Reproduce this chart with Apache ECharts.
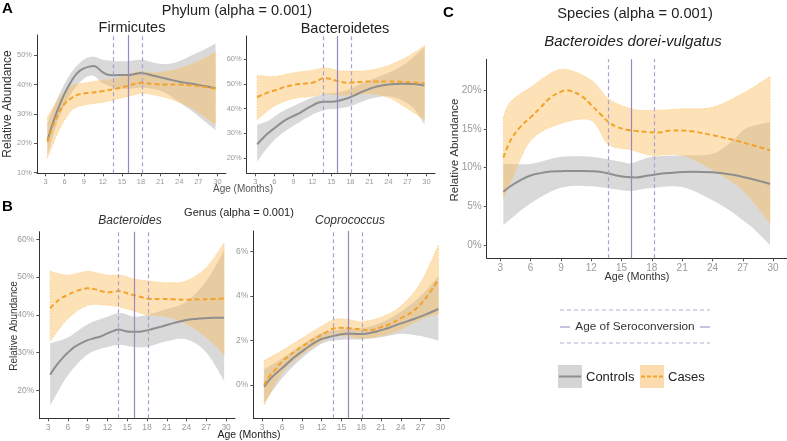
<!DOCTYPE html>
<html><head><meta charset="utf-8">
<script src="https://cdn.jsdelivr.net/npm/echarts@6/dist/echarts.min.js"></script>
<style>html,body{margin:0;padding:0;background:#fff}#c{width:787px;height:441px}</style>
</head><body><div id="c"></div><script>
// ---------- data ----------
const xTicks = [3,6,9,12,15,18,21,24,27,30];
const seroLo = 13.7, seroMid = 16, seroHi = 18.2;

// Firmicutes
const firmTicks = [10,20,30,40,50];
const firmCtrlX = [3.3,4,5,6,7,8,9,10,10.5,11,12,13,14,15,16,17,18,19,20,22,24,26,28,29.7];
const firmCtrlY = [21,26,32,37,41,44,45.5,46.2,46.3,46,44.2,43.3,43.2,43.3,43.3,43.6,44,43.6,43,42,41,40.3,39.5,38.8];
const firmCtrlBX = [3.3,5,7,9,10.5,12,14,16,18,20,22,24,26,28,29.7];
const firmCtrlLo = [16,28,37,42,43,40.5,39,38.5,39,38.5,37,34,31,27.5,24.5];
const firmCtrlHi = [27,36,44,48.5,49.5,48.5,48,48,48.5,47.5,47,48,50,52,54];
const firmCaseX = [3.3,4,5,6,7,8,9,10,12,14,16,18,20,22,24,26,28,29.7];
const firmCaseY = [20.5,25,30,33.5,35.3,36.5,37,37.2,37.8,38.6,39.6,40.6,40.2,40,40,39.7,39.2,38.6];
const firmCaseBX = [3.3,5,7,9,12,14,16,18,20,22,24,26,28,29.7];
const firmCaseLo = [15,24,31,33,34,35,36,37,36.5,35.5,34,32,29,26.5];
const firmCaseHi = [29,35,39.5,40.5,41.5,42,43.5,44.5,44,44.5,45.5,47,49,51];

// Bacteroidetes
const bactTicks = [20,30,40,50,60];
const bactCtrlX = [3.3,4,5,6,7,8,9,10,11,12,13,14,15,16,17,18,19,20,21,22,24,26,28,29.7];
const bactCtrlY = [25.5,27.5,30,32,34,35.7,37,38.2,39.8,41.2,42.5,42.8,42.8,43.1,43.8,44.6,45.8,47,48,48.8,49.8,50.1,50,49.3];
const bactCtrlBX = [3.3,5,7,9,12,14,16,18,20,22,24,26,28,29.7];
const bactCtrlLo = [18.5,24.5,29.5,33,37.5,39.5,40,41,43,44.5,45,43.5,40,33.5];
const bactCtrlHi = [33.5,35,38.5,41,44.5,46,46.5,48,50.5,52.5,54.5,57,61,65];
const bactCaseX = [3.3,4,5,6,7,8,9,10,11,12,13,13.7,14.5,15.5,16.5,17.5,18.5,20,22,24,26,28,29.7];
const bactCaseY = [44.6,45.5,46.5,47.3,48.2,49,49.6,50,50.2,50.5,51.5,52.3,52.2,51.5,50.8,50.5,50.6,50.9,51,51,50.9,50.6,50.2];
const bactCaseBX = [3.3,6,9,12,14,16,18,21,24,27,29.7];
const bactCaseLo = [35.5,41,44,45,46,45.5,45.5,46,44.5,40,35.5];
const bactCaseHi = [53.5,53,54.5,55.5,56.5,55.5,55.2,55.5,57.5,61,65.5];

// Bacteroides (genus)
const bdesTicks = [20,30,40,50,60];
const bdesCtrlX = [3.3,4,5,6,7,8,9,10,11,12,13,13.7,14.5,15.5,16.5,17.5,18.5,20,21,22,24,26,28,29.7];
const bdesCtrlY = [24.1,26,28.2,30,31.5,32.5,33.3,33.8,34.3,35.1,35.8,36.1,35.8,35.5,35.5,35.7,36.1,36.8,37.3,37.8,38.6,39,39.2,39.2];
const bdesCtrlBX = [3.3,6,9,12,14,16,18,21,24,27,29.7];
const bdesCtrlLo = [16,24,29.5,31.5,32,31.5,31.5,33,33.5,30,22.5];
const bdesCtrlHi = [32.5,34,37.5,39.5,40.5,39.5,40,41.5,43.5,49,57];
const bdesCaseX = [3.3,4,5,6,7,8,9,10,11,12,13,13.7,14.5,15.5,16.5,17.5,18.5,20,22,24,26,28,29.7];
const bdesCaseY = [41.7,43,44.4,45.3,46.1,46.7,47,46.8,46.3,45.9,46.1,46.3,46,45.4,45,44.5,44.2,44.2,44.1,44,44.1,44.2,44.3];
const bdesCaseBX = [3.3,6,9,12,14,16,18,21,24,27,29.7];
const bdesCaseLo = [33,39,42.5,42.5,42,41,40,39.5,37.5,34,29.5];
const bdesCaseHi = [51.5,50.5,51.5,50.5,50.5,49.5,49,48.5,49,52.5,59];

// Coprococcus
const coprTicks = [0,2,4,6];
const coprX = [3.3,4,5,6,7,8,9,10,11,12,13,14,15,16,17,18,19,20,21,22,24,26,28,29.7];
const coprCtrlY = [-0.08,0.2,0.5,0.75,1.02,1.28,1.5,1.72,1.92,2.07,2.15,2.22,2.28,2.32,2.3,2.29,2.32,2.38,2.47,2.55,2.77,2.97,3.2,3.42];
const coprCaseY = [0,0.35,0.7,1.05,1.3,1.52,1.72,1.92,2.1,2.25,2.42,2.55,2.57,2.56,2.53,2.5,2.46,2.5,2.6,2.7,3.0,3.35,4.0,4.75];
const coprBX = [3.3,6,9,12,14,16,18,21,24,27,29.7];
const coprCtrlLo = [-0.8,0.3,1.2,1.85,2.0,2.05,2.05,2.15,2.3,2.2,2.0];
const coprCtrlHi = [0.7,1.2,1.8,2.35,2.45,2.55,2.55,2.8,3.3,4.0,4.9];
const coprCaseLo = [-0.9,0.55,1.35,1.95,2.2,2.2,2.1,2.2,2.5,2.95,3.2];
const coprCaseHi = [1.1,1.55,2.1,2.65,2.95,2.95,2.85,3.05,3.55,4.6,6.3];

// Bacteroides dorei-vulgatus (species)
const specTicks = [0,5,10,15,20];
const specCtrlX = [3.3,4,5,6,7,8,9,10,11,12,13,13.7,14.5,15.5,16.5,17.5,18.5,20,21,22,24,26,27,28,29.7];
const specCtrlY = [6.9,7.6,8.4,9.0,9.3,9.5,9.55,9.58,9.58,9.55,9.45,9.25,9.0,8.8,8.75,8.95,9.15,9.35,9.46,9.48,9.4,9.1,8.8,8.5,7.9];
const specCtrlBX = [3.3,6,9,12,15,16,18,21,24,26,27,28,29.7];
const specCtrlLo = [2.6,5.4,7.4,7.6,7.1,7.0,7.4,7.5,5.8,4.2,3.2,2.2,0];
const specCtrlHi = [10.5,10.5,11.4,11.4,10.75,10.6,11.4,11.6,11.8,13.5,14.8,15.4,15.9];
const specCaseX = [3.3,4,5,6,7,8,9,9.5,10,11,12,13,13.7,14.5,15.5,16.5,17.5,18.5,20,21,22,24,26,28,29.7];
const specCaseY = [11.3,13.5,15.3,16.5,17.8,19.1,19.8,20,19.9,19.3,18.1,16.8,15.9,15.3,14.9,14.75,14.6,14.55,14.8,14.8,14.7,14.2,13.6,12.9,12.25];
const specCaseBX = [3.3,4,6,9,12,13.7,16,18,21,24,27,29.7];
const specCaseLo = [6,8,13.5,15.7,16.1,13,12.3,11.6,11.6,9.7,7.1,2.8];
const specCaseHi = [16.5,18.5,20.4,22.7,21.3,18.9,17.6,17.4,17.6,17.8,19.6,21.8];

// ---------- style ----------
const FONT = 'Liberation Sans, Arial, sans-serif';
const CTRL_LINE = '#8e8e8e', CASE_LINE = '#f2a32c';
const CTRL_BAND = 'rgba(150,150,150,0.36)', CASE_BAND = 'rgba(252,186,84,0.42)';
const DASH_V = '#ad9fcc', SOLID_V = '#9a88bd';

const grids = [
  {left:37, top:35, width:189, height:138.3},
  {left:246.7, top:36, width:188.3, height:137.3},
  {left:39.3, top:231.7, width:195.7, height:186.6},
  {left:253.3, top:231, width:196, height:187.3},
  {left:486.7, top:59.3, width:300, height:199}
];
const yRanges = [[9.8,56.9],[13.8,69.4],[12.6,62],[-1.5,6.93],[-1.7,24]];
const yTickSets = [firmTicks,bactTicks,bdesTicks,coprTicks,specTicks];
const labelSizes = [7.5,7.5,8.5,8.5,10];

function spline(pts, n){
  const out=[];
  for(let i=0;i<pts.length-1;i++){
    const p0=pts[Math.max(i-1,0)], p1=pts[i], p2=pts[i+1], p3=pts[Math.min(i+2,pts.length-1)];
    const c1=[p1[0]+(p2[0]-p0[0])/6, p1[1]+(p2[1]-p0[1])/6];
    const c2=[p2[0]-(p3[0]-p1[0])/6, p2[1]-(p3[1]-p1[1])/6];
    for(let k=0;k<n;k++){
      const t=k/n,u=1-t;
      out.push([u*u*u*p1[0]+3*u*u*t*c1[0]+3*u*t*t*c2[0]+t*t*t*p2[0],
                u*u*u*p1[1]+3*u*u*t*c1[1]+3*u*t*t*c2[1]+t*t*t*p2[1]]);
    }
  }
  out.push(pts[pts.length-1]);
  return out;
}
function band(gi, xs, lo, hi, color, edge){
  return {type:'custom', xAxisIndex:gi, yAxisIndex:gi, silent:true, z:1, animation:false,
    data:[[xs[0], lo[0]]],
    renderItem(params, api){
      const up = xs.map((x,i)=>api.coord([x,hi[i]]));
      const dn = xs.map((x,i)=>api.coord([x,lo[i]]));
      const pts = spline(up,8).concat(spline(dn,8).reverse());
      const st = {fill:color};
      if(edge){ st.stroke = edge; st.lineWidth = 1; st.lineDash = [1.5,1.5]; }
      return {type:'polygon', shape:{points:pts}, style:st};
    }};
}
function line(gi, xs, ys, color, dashed, w){
  return {type:'line', xAxisIndex:gi, yAxisIndex:gi, data:xs.map((x,i)=>[x,ys[i]]),
    smooth:0.4, showSymbol:false, symbol:'none', silent:true, animation:false, z:3,
    lineStyle:{color:color, width:w||2, type: dashed ? [5,3] : 'solid'}};
}
function vlines(gi){
  const dash = {type:[4,3], color:DASH_V, width:1.2};
  return {type:'line', xAxisIndex:gi, yAxisIndex:gi, data:[], silent:true, z:4, animation:false,
    markLine:{symbol:['none','none'], silent:true, animation:false, label:{show:false},
      data:[{xAxis:seroLo, lineStyle:dash},
            {xAxis:seroMid, lineStyle:{type:'solid', color:SOLID_V, width:1.2}},
            {xAxis:seroHi, lineStyle:dash}]}};
}

const xAxes = grids.map((g,i)=>({type:'value', gridIndex:i, min:1.65, max:31.35,
  axisLine:{show:true, onZero:false, lineStyle:{color:'#333', width:1}},
  axisTick:{show:true, length:3, lineStyle:{color:'#555'}, customValues:xTicks},
  axisLabel:{customValues:xTicks, fontSize:labelSizes[i], color:'#9a9a9a', margin:5, fontFamily:FONT},
  splitLine:{show:false}}));
const yAxes = grids.map((g,i)=>({type:'value', gridIndex:i, min:yRanges[i][0], max:yRanges[i][1],
  axisLine:{show:true, onZero:false, lineStyle:{color:'#333', width:1}},
  axisTick:{show:true, length:3, lineStyle:{color:'#555'}, customValues:yTickSets[i]},
  axisLabel:{customValues:yTickSets[i], fontSize:labelSizes[i], color:'#9a9a9a', margin:5, fontFamily:FONT,
    formatter:v=>v+'%'},
  splitLine:{show:false}}));

const series = [
  band(0, firmCtrlBX, firmCtrlLo, firmCtrlHi, CTRL_BAND),
  band(0, firmCaseBX, firmCaseLo, firmCaseHi, CASE_BAND, 'rgba(250,200,120,0.7)'),
  line(0, firmCtrlX, firmCtrlY, CTRL_LINE, false),
  line(0, firmCaseX, firmCaseY, CASE_LINE, true),
  vlines(0),
  band(1, bactCtrlBX, bactCtrlLo, bactCtrlHi, CTRL_BAND),
  band(1, bactCaseBX, bactCaseLo, bactCaseHi, CASE_BAND, 'rgba(250,200,120,0.7)'),
  line(1, bactCtrlX, bactCtrlY, CTRL_LINE, false),
  line(1, bactCaseX, bactCaseY, CASE_LINE, true),
  vlines(1),
  band(2, bdesCtrlBX, bdesCtrlLo, bdesCtrlHi, CTRL_BAND),
  band(2, bdesCaseBX, bdesCaseLo, bdesCaseHi, CASE_BAND, 'rgba(250,200,120,0.7)'),
  line(2, bdesCtrlX, bdesCtrlY, CTRL_LINE, false),
  line(2, bdesCaseX, bdesCaseY, CASE_LINE, true),
  vlines(2),
  band(3, coprBX, coprCtrlLo, coprCtrlHi, CTRL_BAND),
  band(3, coprBX, coprCaseLo, coprCaseHi, CASE_BAND, 'rgba(250,200,120,0.7)'),
  line(3, coprX, coprCtrlY, CTRL_LINE, false),
  line(3, coprX, coprCaseY, CASE_LINE, true),
  vlines(3),
  band(4, specCtrlBX, specCtrlLo, specCtrlHi, CTRL_BAND),
  band(4, specCaseBX, specCaseLo, specCaseHi, CASE_BAND, 'rgba(250,200,120,0.7)'),
  line(4, specCtrlX, specCtrlY, CTRL_LINE, false),
  line(4, specCaseX, specCaseY, CASE_LINE, true),
  vlines(4)
];

function txt(text, x, y, size, opts){
  opts = opts || {};
  return {type:'text', x:x, y:y, rotation:opts.rot||0, silent:true,
    style:{text:text, fill:opts.color||'#222', fontSize:size, fontFamily:FONT,
      fontWeight:opts.bold?'bold':'normal', fontStyle:opts.italic?'italic':'normal',
      align:opts.align||'center', verticalAlign:'middle'}};
}
const graphics = [
  txt('A', 2, 9, 15, {bold:true, align:'left', color:'#000'}),
  txt('Phylum (alpha = 0.001)', 237, 11, 14.5),
  txt('Firmicutes', 132, 28, 14.5),
  txt('Bacteroidetes', 345, 29, 14.5),
  txt('Relative Abundance', 8, 104, 12, {rot:Math.PI/2, color:'#333'}),
  txt('Age (Months)', 243, 189, 10, {color:'#555'}),
  txt('B', 2, 207, 15, {bold:true, align:'left', color:'#000'}),
  txt('Genus (alpha = 0.001)', 239, 213, 11),
  txt('Bacteroides', 130, 221, 12, {italic:true, color:'#333'}),
  txt('Coprococcus', 350, 221, 12, {italic:true, color:'#333'}),
  txt('Relative Abundance', 14, 326, 10, {rot:Math.PI/2, color:'#333'}),
  txt('Age (Months)', 249, 435, 10.5, {color:'#222'}),
  txt('C', 443, 13, 15, {bold:true, align:'left', color:'#000'}),
  txt('Species (alpha = 0.001)', 635, 14, 14.7),
  txt('Bacteroides dorei-vulgatus', 633, 42, 15, {italic:true}),
  txt('Relative Abundance', 455, 150, 11.5, {rot:Math.PI/2, color:'#333'}),
  txt('Age (Months)', 637, 277, 10.8, {color:'#333'}),
  // seroconversion legend
  {type:'line', silent:true, shape:{x1:560,y1:310,x2:710,y2:310}, style:{stroke:'#b7abd4', lineWidth:1.2, lineDash:[4,3]}},
  {type:'line', silent:true, shape:{x1:560,y1:343,x2:710,y2:343}, style:{stroke:'#b7abd4', lineWidth:1.2, lineDash:[4,3]}},
  {type:'line', silent:true, shape:{x1:560,y1:327,x2:570,y2:327}, style:{stroke:'#a898c8', lineWidth:1.2}},
  {type:'line', silent:true, shape:{x1:700,y1:327,x2:710,y2:327}, style:{stroke:'#a898c8', lineWidth:1.2}},
  txt('Age of Seroconversion', 635, 327, 11.8, {color:'#333'}),
  // group legend
  {type:'rect', silent:true, shape:{x:558,y:365,width:24,height:23}, style:{fill:'#d5d5d5'}},
  {type:'line', silent:true, shape:{x1:559,y1:376.5,x2:581,y2:376.5}, style:{stroke:CTRL_LINE, lineWidth:2}},
  txt('Controls', 586, 377, 13, {align:'left'}),
  {type:'rect', silent:true, shape:{x:640,y:365,width:24,height:23}, style:{fill:'#fcdcae'}},
  {type:'line', silent:true, shape:{x1:641,y1:376.5,x2:663,y2:376.5}, style:{stroke:CASE_LINE, lineWidth:2, lineDash:[4,2]}},
  txt('Cases', 668, 377, 13, {align:'left'})
];

const chart = echarts.init(document.getElementById('c'), null, {renderer:'canvas'});
chart.setOption({
  animation:false,
  backgroundColor:'#fff',
  grid: grids,
  xAxis: xAxes,
  yAxis: yAxes,
  series: series,
  graphic: graphics
});
</script></body></html>
